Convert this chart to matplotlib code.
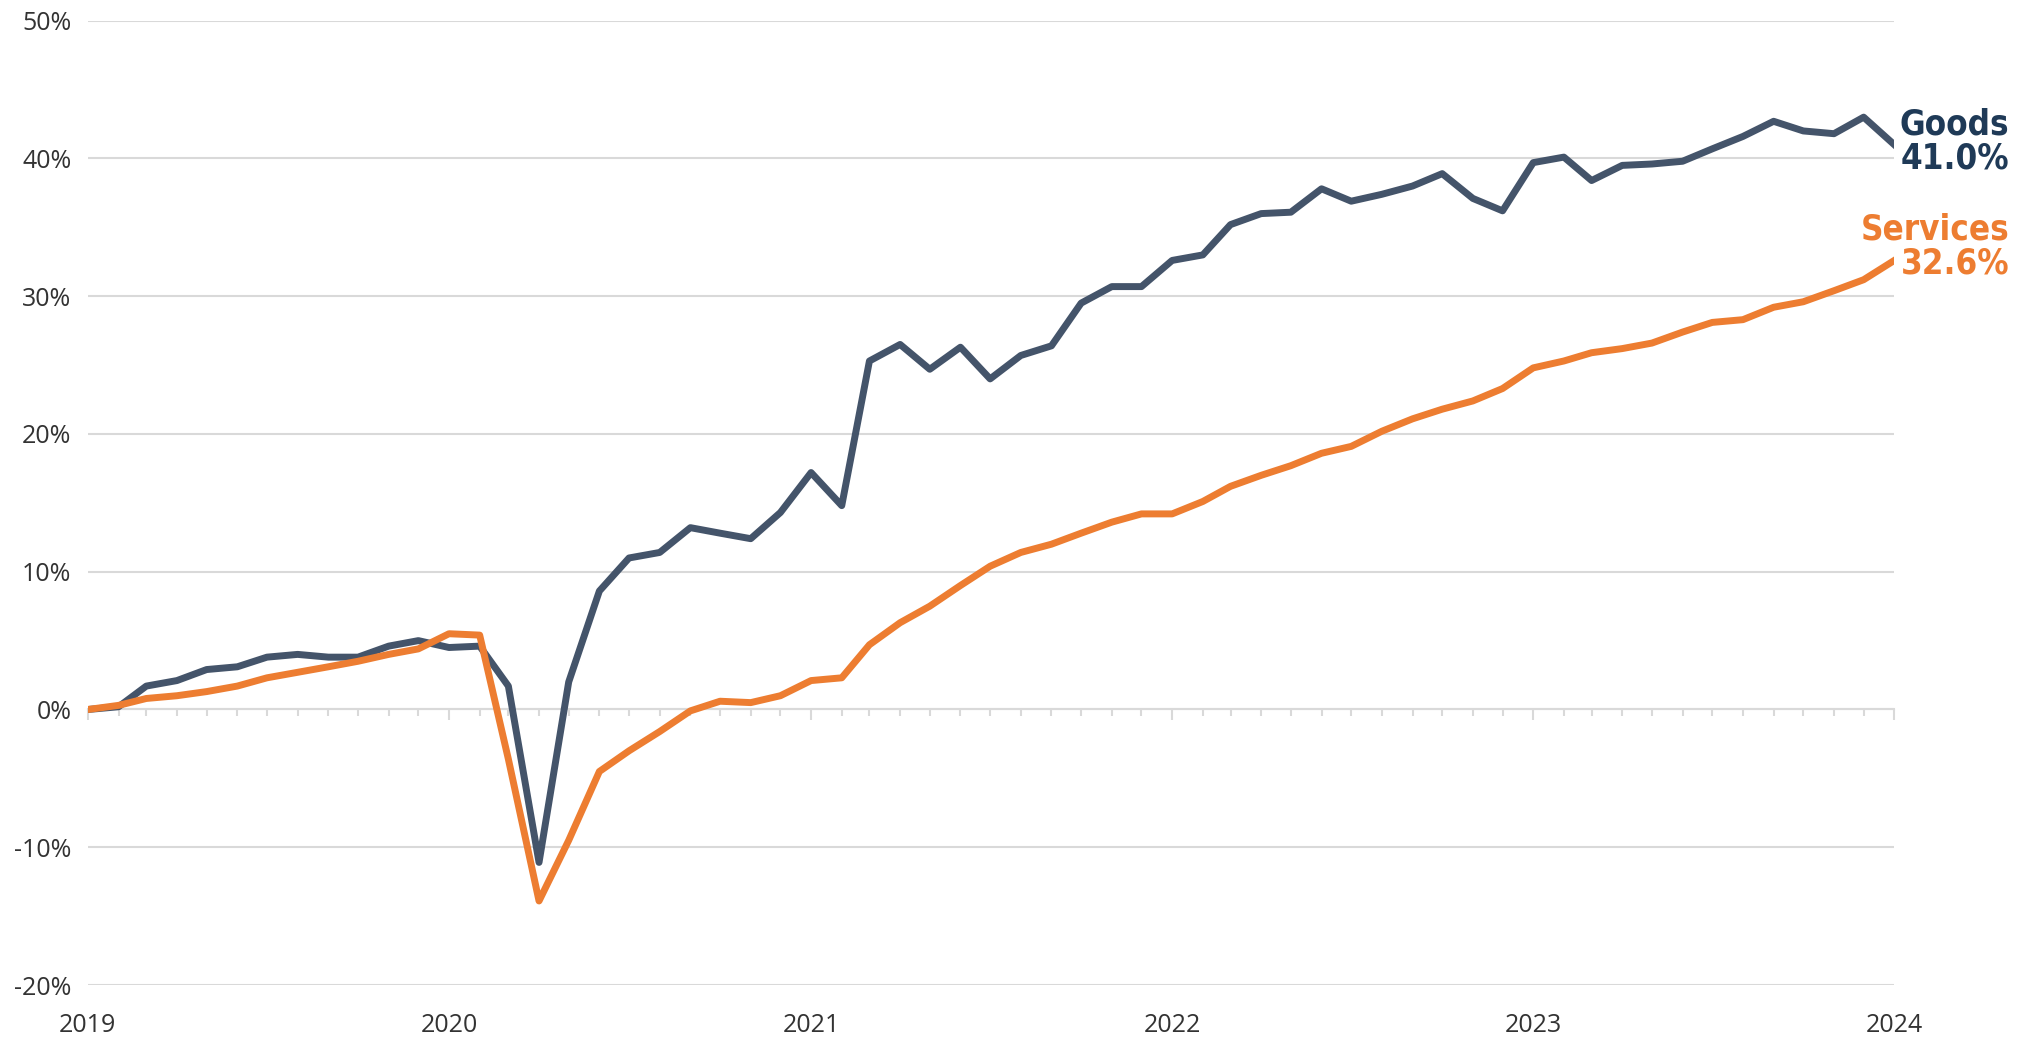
import pandas as pd
import matplotlib
matplotlib.use("Agg")
import matplotlib.pyplot as plt
import matplotlib.dates as mdates
import matplotlib.transforms as mtransforms
from matplotlib.ticker import FuncFormatter

# --- data (cumulative % change since Jan 2019, monthly) ---
months = pd.date_range("2019-01-01", "2024-01-01", freq="MS")

goods = [0.0, 0.2, 1.7, 2.1, 2.9, 3.1, 3.8, 4.0, 3.8, 3.8, 4.6, 5.0,        # 2019
         4.5, 4.6, 1.7, -11.1, 2.0, 8.6, 11.0, 11.4, 13.2, 12.8, 12.4, 14.3,  # 2020
         17.2, 14.8, 25.3, 26.5, 24.7, 26.3, 24.0, 25.7, 26.4, 29.5, 30.7, 30.7,  # 2021
         32.6, 33.0, 35.2, 36.0, 36.1, 37.8, 36.9, 37.4, 38.0, 38.9, 37.1, 36.2,  # 2022
         39.7, 40.1, 38.4, 39.5, 39.6, 39.8, 40.7, 41.6, 42.7, 42.0, 41.8, 43.0,  # 2023
         41.0]

services = [0.0, 0.3, 0.8, 1.0, 1.3, 1.7, 2.3, 2.7, 3.1, 3.5, 4.0, 4.4,
            5.5, 5.4, -3.6, -13.9, -9.5, -4.5, -3.0, -1.6, -0.1, 0.6, 0.5, 1.0,
            2.1, 2.3, 4.7, 6.3, 7.5, 9.0, 10.4, 11.4, 12.0, 12.8, 13.6, 14.2,
            14.2, 15.1, 16.2, 17.0, 17.7, 18.6, 19.1, 20.2, 21.1, 21.8, 22.4, 23.3,
            24.8, 25.3, 25.9, 26.2, 26.6, 27.4, 28.1, 28.3, 29.2, 29.6, 30.4, 31.2,
            32.6]

series_names = ["Goods", "Services"]
y_ticks = [-20, -10, 0, 10, 20, 30, 40, 50]

GOODS_LINE = "#44546a"
GOODS_TEXT = "#1f3a57"
SERV_COLOR = "#ed7d31"
GRID = "#d9d9d9"

plt.rcParams["font.family"] = ["Open Sans", "DejaVu Sans"]

fig = plt.figure(figsize=(20.26, 10.42), dpi=100)
ax = fig.add_axes([0.0434, 0.0547, 0.8916, 0.9254])

ax.plot(months, goods, color=GOODS_LINE, lw=5, solid_joinstyle="round", zorder=3)
ax.plot(months, services, color=SERV_COLOR, lw=5, solid_joinstyle="round", zorder=4)

ax.set_xlim(months[0], months[-1])
ax.set_ylim(-20, 50)
ax.set_yticks(y_ticks)
ax.yaxis.set_major_formatter(FuncFormatter(lambda v, p: f"{v:.0f}%"))
ax.grid(axis="y", color=GRID, lw=1.5, zorder=0)
ax.tick_params(axis="y", length=0, pad=12, labelsize=18, labelcolor="#333333")

for s in ["top", "right", "left"]:
    ax.spines[s].set_visible(False)

# month ticks sit on the zero line
ax.spines["bottom"].set_position(("data", 0))
ax.spines["bottom"].set_color(GRID)
ax.spines["bottom"].set_linewidth(1.5)
ax.xaxis.set_major_locator(mdates.YearLocator())
ax.xaxis.set_minor_locator(mdates.MonthLocator())
ax.tick_params(axis="x", which="major", length=8, width=1.5, color=GRID, labelbottom=False)
ax.tick_params(axis="x", which="minor", length=5, width=1.5, color=GRID)

# year labels at the bottom of the plot
sec = ax.secondary_xaxis("bottom")
sec.xaxis.set_major_locator(mdates.YearLocator())
sec.xaxis.set_major_formatter(mdates.DateFormatter("%Y"))
sec.xaxis.set_minor_locator(mdates.MonthLocator())
sec.tick_params(axis="x", which="both", length=0, pad=20, labelsize=18, labelcolor="#333333")
sec.spines["bottom"].set_visible(False)

# end labels
trans = mtransforms.blended_transform_factory(ax.transAxes, ax.transData)
lab_kw = dict(ha="right", va="center", fontsize=25, fontweight="bold",
              family="DejaVu Sans", fontstretch="condensed", linespacing=1.0, transform=trans)
ax.text(1.0637, goods[-1] + 0.2, f"{series_names[0]}\n{goods[-1]:.1f}%", color=GOODS_TEXT, **lab_kw)
ax.text(1.0637, services[-1] + 1.0, f"{series_names[1]}\n{services[-1]:.1f}%", color=SERV_COLOR, **lab_kw)

fig.savefig("out.png", dpi=100)
